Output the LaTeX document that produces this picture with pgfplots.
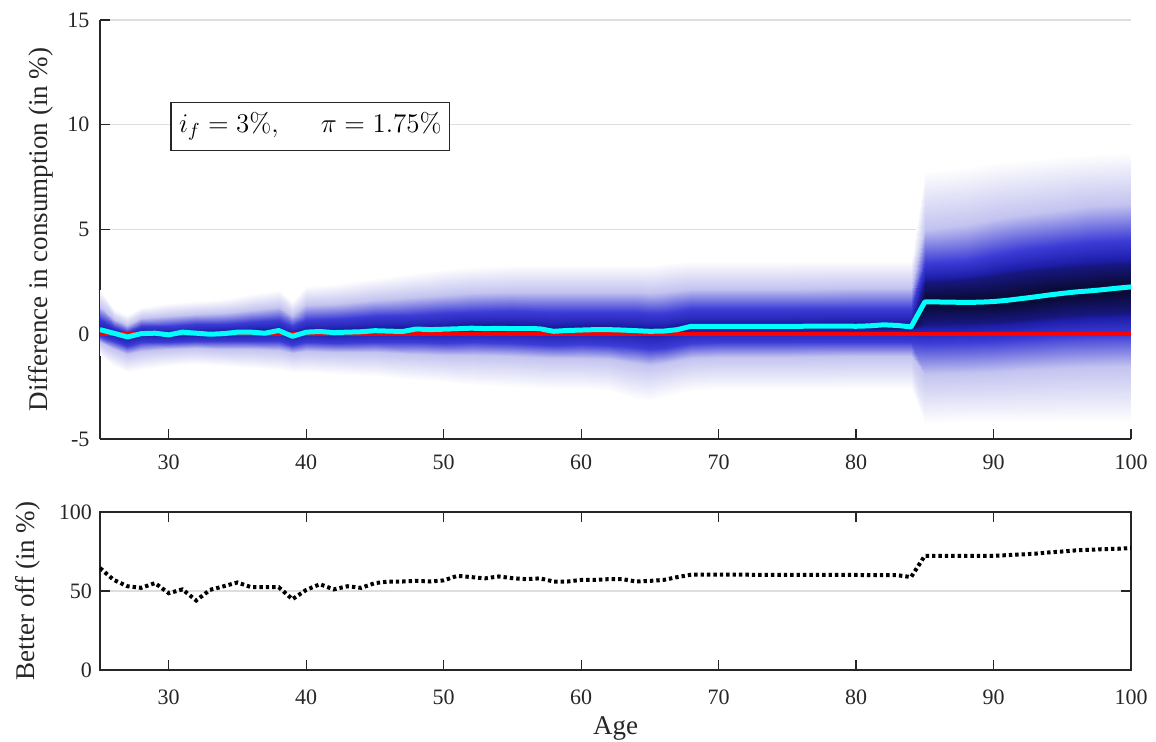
\RequirePackage{fix-cm}
\documentclass[border=0pt]{standalone}
\usepackage[no-math]{fontspec}
\setmainfont{Liberation Serif}
\usepackage{pgfplots}
\pgfplotsset{compat=1.18}
\definecolor{axgray}{RGB}{38,38,38}
\definecolor{gridgray}{RGB}{222,222,222}
\definecolor{medcyan}{RGB}{0,255,255}
\pgfplotsset{
  colormap={fan}{rgb255(0cm)=(255,255,255) rgb255(3cm)=(195,195,240) rgb255(6.5cm)=(60,60,215) rgb255(8.5cm)=(30,30,170) rgb255(10cm)=(8,8,40)},
  myaxis/.style={
    scale only axis, width=515.5pt,
    xmin=25, xmax=100, xtick={30,40,...,100},
    tick align=inside, major tick length=5pt,
    axis line style={axgray, line width=0.6pt},
    tick style={axgray, line width=0.6pt},
    ymajorgrids, major grid style={gridgray, line width=0.6pt},
    tick label style={font=\fontsize{11}{13}\selectfont, text=axgray},
    label style={font=\fontsize{13.5}{16}\selectfont, text=axgray},
    /pgf/number format/assume math mode=true,
  }
}
\begin{document}
\begin{tikzpicture}
\begin{axis}[myaxis, at={(0,0)}, anchor=south west, height=209.5pt,
  ymin=-5, ymax=15, ytick={-5,0,...,15},
  axis x line*=bottom, axis y line*=left,
  colormap name=fan, point meta min=0, point meta max=1,
  ylabel={Difference in consumption (in \%)},
  ylabel style={at={(axis description cs:-0.0572,0.5)}, anchor=center},
  xticklabel style={yshift=-4.3pt}, yticklabel style={xshift=-1.8pt}]
\addplot[surf, shader=interp, mesh/cols=9, point meta=explicit] coordinates {
(25,-1.0)[0] (25,-0.38)[0.3] (25,-0.10)[0.65] (25,0.10)[0.8] (25,0.20)[0.95] (25,0.41)[0.8] (25,0.71)[0.65] (25,1.30)[0.3] (25,2.10)[0]
(26,-1.5)[0] (26,-0.69)[0.3] (26,-0.34)[0.65] (26,-0.07)[0.8] (26,0.05)[0.95] (26,0.18)[0.8] (26,0.36)[0.65] (26,0.72)[0.3] (26,1.20)[0]
(27,-1.8)[0] (27,-0.94)[0.3] (27,-0.56)[0.65] (27,-0.28)[0.8] (27,-0.15)[0.95] (27,-0.03)[0.8] (27,0.13)[0.65] (27,0.46)[0.3] (27,0.90)[0]
(28,-1.7)[0] (28,-0.79)[0.3] (28,-0.39)[0.65] (28,-0.09)[0.8] (28,0.05)[0.95] (28,0.19)[0.8] (28,0.39)[0.65] (28,0.78)[0.3] (28,1.30)[0]
(30,-1.5)[0] (30,-0.72)[0.3] (30,-0.38)[0.65] (30,-0.12)[0.8] (30,0.00)[0.95] (30,0.17)[0.8] (30,0.41)[0.65] (30,0.87)[0.3] (30,1.50)[0]
(32,-1.4)[0] (32,-0.65)[0.3] (32,-0.31)[0.65] (32,-0.07)[0.8] (32,0.05)[0.95] (32,0.22)[0.8] (32,0.47)[0.65] (32,0.95)[0.3] (32,1.60)[0]
(34,-1.5)[0] (34,-0.69)[0.3] (34,-0.34)[0.65] (34,-0.07)[0.8] (34,0.05)[0.95] (34,0.23)[0.8] (34,0.50)[0.65] (34,1.01)[0.3] (34,1.70)[0]
(36,-1.6)[0] (36,-0.72)[0.3] (36,-0.33)[0.65] (36,-0.04)[0.8] (36,0.10)[0.95] (36,0.30)[0.8] (36,0.59)[0.65] (36,1.14)[0.3] (36,1.90)[0]
(38,-1.7)[0] (38,-0.74)[0.3] (38,-0.31)[0.65] (38,0.00)[0.8] (38,0.15)[0.95] (38,0.36)[0.8] (38,0.68)[0.65] (38,1.28)[0.3] (38,2.10)[0]
(39,-1.8)[0] (39,-0.89)[0.3] (39,-0.49)[0.65] (39,-0.19)[0.8] (39,-0.05)[0.95] (39,0.13)[0.8] (39,0.40)[0.65] (39,0.91)[0.3] (39,1.60)[0]
(40,-1.8)[0] (40,-0.81)[0.3] (40,-0.38)[0.65] (40,-0.05)[0.8] (40,0.10)[0.95] (40,0.34)[0.8] (40,0.69)[0.65] (40,1.38)[0.3] (40,2.30)[0]
(42,-1.9)[0] (42,-0.86)[0.3] (42,-0.40)[0.65] (42,-0.06)[0.8] (42,0.10)[0.95] (42,0.35)[0.8] (42,0.72)[0.65] (42,1.43)[0.3] (42,2.40)[0]
(45,-2.0)[0] (45,-0.87)[0.3] (45,-0.37)[0.65] (45,0.01)[0.8] (45,0.18)[0.95] (45,0.46)[0.8] (45,0.86)[0.65] (45,1.64)[0.3] (45,2.70)[0]
(48,-2.2)[0] (48,-0.94)[0.3] (48,-0.39)[0.65] (48,0.03)[0.8] (48,0.22)[0.95] (48,0.51)[0.8] (48,0.94)[0.65] (48,1.77)[0.3] (48,2.90)[0]
(50,-2.3)[0] (50,-0.99)[0.3] (50,-0.41)[0.65] (50,0.02)[0.8] (50,0.22)[0.95] (50,0.54)[0.8] (50,1.00)[0.65] (50,1.89)[0.3] (50,3.10)[0]
(52,-2.4)[0] (52,-1.00)[0.3] (52,-0.38)[0.65] (52,0.08)[0.8] (52,0.30)[0.95] (52,0.62)[0.8] (52,1.08)[0.65] (52,1.98)[0.3] (52,3.20)[0]
(55,-2.5)[0] (55,-1.05)[0.3] (55,-0.42)[0.65] (55,0.06)[0.8] (55,0.28)[0.95] (55,0.61)[0.8] (55,1.10)[0.65] (55,2.03)[0.3] (55,3.30)[0]
(58,-2.6)[0] (58,-1.14)[0.3] (58,-0.50)[0.65] (58,-0.02)[0.8] (58,0.16)[0.95] (58,0.54)[0.8] (58,1.04)[0.65] (58,2.00)[0.3] (58,3.30)[0]
(60,-2.6)[0] (60,-1.12)[0.3] (60,-0.47)[0.65] (60,0.01)[0.8] (60,0.20)[0.95] (60,0.58)[0.8] (60,1.07)[0.65] (60,2.01)[0.3] (60,3.30)[0]
(62,-2.7)[0] (62,-1.17)[0.3] (62,-0.50)[0.65] (62,0.00)[0.8] (62,0.22)[0.95] (62,0.58)[0.8] (62,1.07)[0.65] (62,2.01)[0.3] (62,3.30)[0]
(64,-3.1)[0] (64,-1.38)[0.3] (64,-0.63)[0.65] (64,-0.06)[0.8] (64,0.17)[0.95] (64,0.54)[0.8] (64,1.04)[0.65] (64,2.00)[0.3] (64,3.30)[0]
(65,-3.2)[0] (65,-1.46)[0.3] (65,-0.69)[0.65] (65,-0.12)[0.8] (65,0.14)[0.95] (65,0.50)[0.8] (65,1.00)[0.65] (65,1.98)[0.3] (65,3.30)[0]
(66,-3.0)[0] (66,-1.36)[0.3] (66,-0.64)[0.65] (66,-0.10)[0.8] (66,0.15)[0.95] (66,0.51)[0.8] (66,1.03)[0.65] (66,2.04)[0.3] (66,3.40)[0]
(68,-2.7)[0] (68,-1.11)[0.3] (68,-0.41)[0.65] (68,0.11)[0.8] (68,0.38)[0.95] (68,0.70)[0.8] (68,1.20)[0.65] (68,2.18)[0.3] (68,3.50)[0]
(70,-2.6)[0] (70,-1.07)[0.3] (70,-0.39)[0.65] (70,0.11)[0.8] (70,0.38)[0.95] (70,0.70)[0.8] (70,1.20)[0.65] (70,2.18)[0.3] (70,3.50)[0]
(75,-2.6)[0] (75,-1.07)[0.3] (75,-0.39)[0.65] (75,0.11)[0.8] (75,0.38)[0.95] (75,0.70)[0.8] (75,1.20)[0.65] (75,2.18)[0.3] (75,3.50)[0]
(80,-2.6)[0] (80,-1.06)[0.3] (80,-0.37)[0.65] (80,0.13)[0.8] (80,0.38)[0.95] (80,0.71)[0.8] (80,1.22)[0.65] (80,2.19)[0.3] (80,3.50)[0]
(84,-2.6)[0] (84,-1.06)[0.3] (84,-0.37)[0.65] (84,0.13)[0.8] (84,0.35)[0.95] (84,0.71)[0.8] (84,1.22)[0.65] (84,2.19)[0.3] (84,3.50)[0]
(85,-4.3)[0] (85,-1.90)[0.3] (85,-0.40)[0.65] (85,0.50)[0.9] (85,1.54)[1] (85,2.50)[0.9] (85,3.40)[0.65] (85,5.00)[0.3] (85,7.80)[0]
(88,-4.2)[0] (88,-1.85)[0.3] (88,-0.35)[0.65] (88,0.55)[0.9] (88,1.52)[1] (88,2.60)[0.9] (88,3.50)[0.65] (88,5.20)[0.3] (88,8.00)[0]
(90,-4.2)[0] (90,-1.80)[0.3] (90,-0.30)[0.65] (90,0.60)[0.9] (90,1.56)[1] (90,2.80)[0.9] (90,3.80)[0.65] (90,5.50)[0.3] (90,8.20)[0]
(92,-4.2)[0] (92,-1.70)[0.3] (92,-0.22)[0.65] (92,0.70)[0.9] (92,1.70)[1] (92,2.95)[0.9] (92,4.00)[0.65] (92,5.70)[0.3] (92,8.30)[0]
(95,-4.2)[0] (95,-1.60)[0.3] (95,-0.10)[0.65] (95,0.85)[0.9] (95,1.95)[1] (95,3.15)[0.9] (95,4.25)[0.65] (95,5.95)[0.3] (95,8.50)[0]
(97,-4.2)[0] (97,-1.55)[0.3] (97,-0.05)[0.65] (97,0.95)[0.9] (97,2.07)[1] (97,3.25)[0.9] (97,4.40)[0.65] (97,6.10)[0.3] (97,8.60)[0]
(100,-4.2)[0] (100,-1.50)[0.3] (100,0.00)[0.65] (100,1.00)[0.9] (100,2.26)[1] (100,3.35)[0.9] (100,4.50)[0.65] (100,6.20)[0.3] (100,8.70)[0]
};
\addplot[red, line width=2.1pt] coordinates {(25,0) (100,0)};
\addplot[medcyan, line width=2.5pt, line join=round] coordinates {
(25,0.22) (26,0.05) (27,-0.13) (28,0.03) (29,0.05) (30,-0.03) (31,0.10) (32,0.05) (33,0.0) (34,0.03)
(35,0.10) (36,0.10) (37,0.05) (38,0.18) (39,-0.10) (40,0.10) (41,0.13) (42,0.08) (43,0.10) (44,0.12)
(45,0.17) (46,0.15) (47,0.13) (48,0.25) (49,0.22) (50,0.24) (51,0.26) (52,0.29) (53,0.27) (54,0.28)
(55,0.27) (56,0.27) (57,0.26) (58,0.14) (59,0.18) (60,0.20) (61,0.22) (62,0.22) (63,0.20) (64,0.17)
(65,0.14) (66,0.15) (67,0.22) (68,0.38) (69,0.38) (70,0.38) (71,0.38) (72,0.38) (73,0.38) (74,0.38)
(75,0.38) (76,0.38) (77,0.39) (78,0.39) (79,0.39) (80,0.38) (81,0.40) (82,0.45) (83,0.42) (84,0.35)
(85,1.54) (86,1.54) (87,1.53) (88,1.52) (89,1.53) (90,1.56) (91,1.62) (92,1.70) (93,1.78) (94,1.87)
(95,1.95) (96,2.02) (97,2.07) (98,2.13) (99,2.20) (100,2.26)
};
\node[draw=axgray, fill=white, line width=0.6pt, font=\fontsize{13.5}{16}\selectfont, inner xsep=4pt, inner ysep=5pt] at (axis cs:40.3,9.93) {$i_f=3\%,\hspace{1.4em}\pi=1.75\%$};
\end{axis}
\begin{axis}[myaxis, at={(0,-115.5pt)}, anchor=south west, height=79pt,
  ymin=0, ymax=100, ytick={0,50,100},
  xlabel={Age}, ylabel={Better off (in \%)},
  xlabel style={at={(axis description cs:0.5,0)}, anchor=north, yshift=-23pt, inner sep=0pt},
  ylabel style={at={(axis description cs:-0.0703,0.5)}, anchor=center},
  xticklabel style={yshift=-6.3pt}, yticklabel style={xshift=-0.5pt}]
\addplot[black, line width=2pt, dash pattern=on 1.7pt off 1.5pt] coordinates {
(25,64.5) (26,57) (27,53) (28,52) (29,55) (30,48.6) (31,51) (32,44) (33,50.7) (34,53)
(35,55.4) (36,52.4) (37,52.4) (38,52.4) (39,44.8) (40,50.7) (41,54.3) (42,51) (43,53) (44,52)
(45,55) (46,56) (47,56) (48,56.4) (49,56) (50,56.7) (51,59.6) (52,58.8) (53,58) (54,59.2)
(55,58.1) (56,57.5) (57,58) (58,56) (59,56) (60,57) (61,57) (62,57.5) (63,57.5) (64,56)
(65,56.4) (66,57) (67,58.8) (68,60.3) (69,60.3) (70,60.3) (71,60.3) (72,60.3) (73,60.2) (74,60.2)
(75,60.2) (76,60.2) (77,60.2) (78,60.2) (79,60.2) (80,60.2) (81,60) (82,60) (83,60) (84,58.8)
(85,72.3) (86,72.3) (87,72.3) (88,72.3) (89,72.3) (90,72.3) (91,72.7) (92,73.1) (93,73.6) (94,74.4)
(95,75) (96,75.7) (97,76.1) (98,76.5) (99,76.7) (100,77.2)
};
\end{axis}
\pgfresetboundingbox
\useasboundingbox (-50pt,-151.5pt) rectangle (528pt,219.5pt);
\end{tikzpicture}
\end{document}
